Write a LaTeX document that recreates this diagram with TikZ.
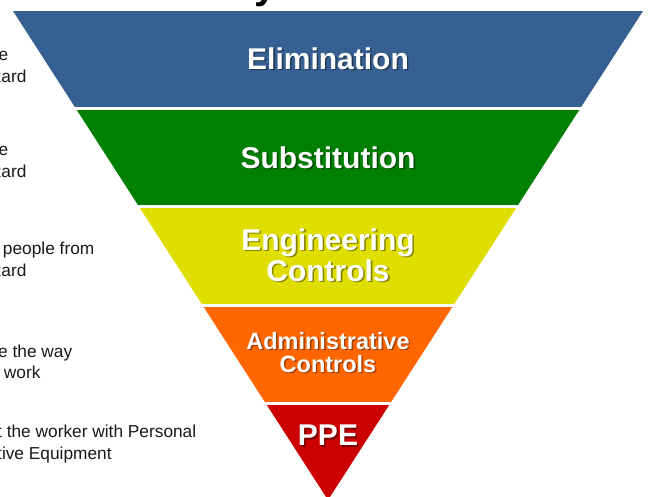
\documentclass[tikz,border=0pt]{standalone}
\usepackage{fontspec}
\setmainfont{Liberation Sans}
\definecolor{bandblue}{RGB}{54,96,146}
\definecolor{bandgreen}{RGB}{0,128,0}
\definecolor{bandyellow}{RGB}{223,222,0}
\definecolor{bandorange}{RGB}{255,102,0}
\definecolor{bandred}{RGB}{204,0,0}
\definecolor{sidetext}{RGB}{25,25,25}
\newcommand\bandlbl[4]{% name, x, baseline y, text
  \node[bandshadow] (#1s) at (#2+1.6,#3+1.6) {#4};
  \node[bandtext] (#1) at (#2,#3) {#4};}
\newcommand\smallbandlbl[4]{%
  \node[bandshadow,smallband] (#1s) at (#2+1.4,#3+1.4) {#4};
  \node[bandtext,smallband] (#1) at (#2,#3) {#4};}
\begin{document}
\begin{tikzpicture}[x=1pt,y=-1pt,
  bandtext/.style={font=\bfseries\fontsize{30}{31}\selectfont, text=white, inner sep=0pt, anchor=base},
  bandshadow/.style={bandtext, text=black, text opacity=0.4},
  smallband/.style={font=\bfseries\fontsize{23.5}{24}\selectfont},
  side/.style={font=\fontsize{17.3}{22}\selectfont, text=sidetext, inner sep=0pt, anchor=base west},
  sideend/.style={side, anchor=base east},
  titletext/.style={font=\bfseries\fontsize{40}{44}\selectfont, text=black, inner sep=0pt, anchor=base west}]
\useasboundingbox (0,0) rectangle (648,496);
% clipped title (only the descender of the y shows)
\node[titletext] (title) at (92,-1.5) {Hierarchy of Controls};
% inverted triangle bands
\begin{scope}
  \clip (13,11) -- (643,11) -- (328,500) -- cycle;
  \fill[bandblue]   (0,11)  rectangle (648,107);
  \fill[bandgreen]  (0,110) rectangle (648,205);
  \fill[bandyellow] (0,208) rectangle (648,304);
  \fill[bandorange] (0,307) rectangle (648,402);
  \fill[bandred]    (0,405) rectangle (648,510);
\end{scope}
% band labels
\bandlbl{elim}{328}{69}{Elimination}
\bandlbl{subst}{328}{168}{Substitution}
\bandlbl{eng1}{328}{250}{Engineering}
\bandlbl{eng2}{328}{281}{Controls}
\smallbandlbl{adm1}{328}{349}{Administrative}
\smallbandlbl{adm2}{328}{372.5}{Controls}
\bandlbl{ppe}{328}{445.5}{PPE}
% side descriptions (cut off at the left edge)
\node[sideend] (d1a) at (8.5,60) {Remove};
\node[side] (d1b) at (-55.5,82) {the hazard};
\node[sideend] (d2a) at (8.5,155) {Replace};
\node[side] (d2b) at (-55.5,177) {the hazard};
\node[side] (d3a) at (-53,254) {Isolate people from};
\node[side] (d3b) at (-55.5,276) {the hazard};
\node[side] (d4a) at (-53,357) {Change the way};
\node[side] (d4b) at (-53,378.5) {people work};
\node[side] (d5a) at (-53,437) {Protect the worker with Personal};
\node[side] (d5b) at (-53,459.5) {Protective Equipment};
\end{tikzpicture}
\end{document}
